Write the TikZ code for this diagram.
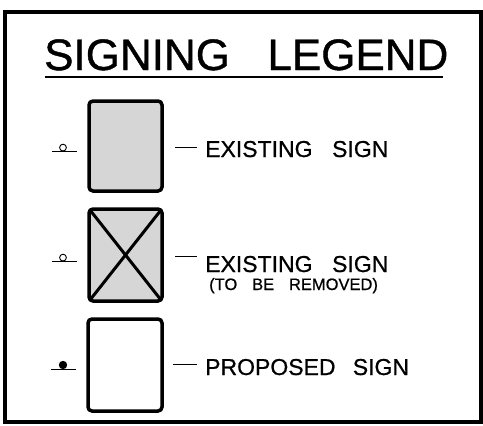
\documentclass[tikz,border=0pt]{standalone}
\usepackage{fontspec}
\setmainfont{Liberation Sans}
\newfontfamily\heavy{Liberation Sans}[FakeBold=0.7]
\newfontfamily\heavyt{Liberation Sans}[FakeBold=0.9]
\begin{document}
\begin{tikzpicture}[x=1pt,y=-1pt,
  signbox/.style={draw=black,line width=3.5pt,rounded corners=4pt},
  lead/.style={draw=black,line width=0.9pt},
  lbl/.style={anchor=base west,inner sep=0pt,font=\heavy\fontsize{23}{26}\selectfont},
  sublbl/.style={anchor=base west,inner sep=0pt,font=\heavy\fontsize{16.5}{19}\selectfont}]
\useasboundingbox (0,0) rectangle (483,426);
\fill[white] (0,0) rectangle (483,426);
% frame
\draw[line width=4pt] (5,12) rectangle (481,422);
% title
\node[anchor=base west,inner sep=0pt,font=\heavyt\fontsize{44}{50}\selectfont] (title) at (44,70) {SIGNING\hspace{0.85em}LEGEND};
\draw[line width=1.3pt] (45,77) -- (443,77);
% row 1
\draw[signbox,fill=gray!32] (89,101) rectangle (162,191);
\draw[lead] (52,151) -- (77,151);
\draw[line width=0.9pt,fill=white] (63,147.6) circle (3.4);
\draw[lead] (175,147) -- (197,147);
\node[lbl] (t1) at (205,157) {EXISTING\hspace{0.85em}SIGN};
% row 2
\draw[signbox,fill=gray!32] (89,209) rectangle (162,301);
\draw[line width=3pt] (90,210) -- (161,300) (161,210) -- (90,300);
\draw[lead] (52,261) -- (77,261);
\draw[line width=0.9pt,fill=white] (63,257.6) circle (3.4);
\draw[lead] (175,256) -- (197,256);
\node[lbl] (t2) at (205,272) {EXISTING\hspace{0.85em}SIGN};
\node[sublbl] (t2b) at (209,290) {(TO\hspace{0.9em}BE\hspace{0.9em}REMOVED)};
% row 3
\draw[signbox,fill=white] (88,319) rectangle (162,411);
\draw[lead] (51,369) -- (76,369);
\fill[black] (63,365) circle (4.2);
\draw[lead] (173,364) -- (197,364);
\node[lbl] (t3) at (205,375) {PROPOSED\hspace{0.75em}SIGN};
\end{tikzpicture}
\end{document}
